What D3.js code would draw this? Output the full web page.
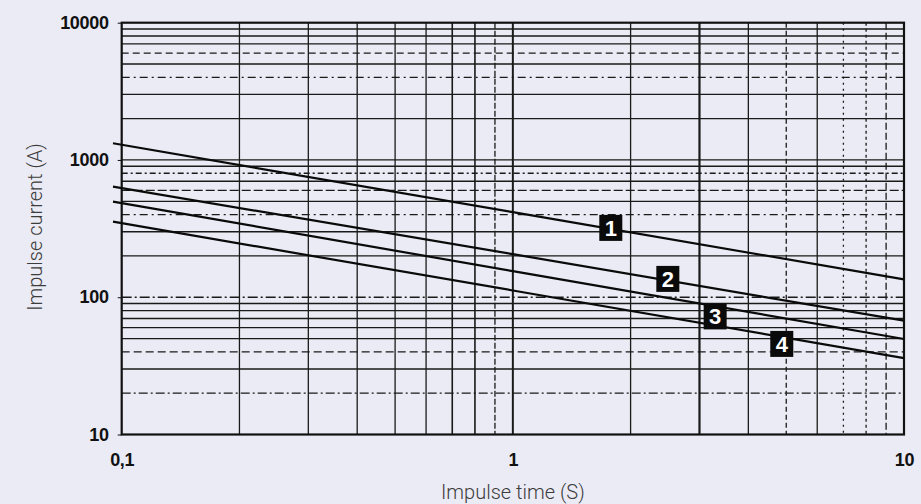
<!DOCTYPE html>
<html>
<head>
<meta charset="utf-8">
<script src="https://cdn.jsdelivr.net/npm/d3@7"></script>
<style>
  html, body { margin: 0; padding: 0; background: #ebebf5; }
  svg { display: block; }
  .tick-label { font-family: "Liberation Sans", Arial, sans-serif; font-weight: bold; font-size: 18px; letter-spacing: -0.3px; fill: #111; }
  .axis-title { font-family: Roboto, "Open Sans", sans-serif; font-size: 20px; font-weight: 300; fill: #3c3c3c; }
  .box-label { font-family: "Liberation Sans", Arial, sans-serif; font-weight: bold; font-size: 22px; fill: #fff; }
</style>
</head>
<body>
<div id="chart"></div>
<script>
// Impulse current vs impulse time, log-log chart with 4 curves

// axis ticks
var timeTicks = [0.1, 1, 10];
var timeTickLabels = ["0,1", "1", "10"];
var currentTicks = [10, 100, 1000, 10000];
var currentTickLabels = ["10", "100", "1000", "10000"];

// curves, time in s, current in A
var curveNames = ["1", "2", "3", "4"];
var curveTimes = [0.095, 1, 10];
var curve1 = [1324, 417, 135];
var curve2 = [639, 206, 67.5];
var curve3 = [497, 155, 49.6];
var curve4 = [355, 112, 36];

// where the numbered boxes sit
var labelTimes = [1.78, 2.49, 3.29, 4.87];
var labelCurrents = [320, 136, 72.5, 45.7];

var width = 921;
var height = 504;

var svg = d3.select('#chart')
  .append('svg')
  .attr('width', width)
  .attr('height', height);

var x = d3.scaleLog().domain([0.1, 10]).range([121.7, 904]);
var y = d3.scaleLog().domain([10, 10000]).range([434.5, 22.7]);

// grid lines of the log paper, dashes copy the scanned look
var vDash = { 0.9: "6,2", 5: "5,3", 7: "2,4", 8: "3,3", 9: "7,3" };
var vWide = { 1: 2, 3: 2.2, 0.7: 1.6, 0.8: 1.6 };
var hDash = { 20: "9,3,2,3", 40: "8,4", 100: "10,3,2,3", 400: "8,4,2,4",
              600: "9,3", 800: "6,3,2,3", 4000: "8,4,2,4", 6000: "7,4" };

var gridX = [];
var gridY = [];
[0.1, 1].forEach(function (d) {
  for (var k = 2; k <= 9; k++) gridX.push(+(d * k).toFixed(2));
});
gridX.push(1);
[10, 100, 1000].forEach(function (d) {
  for (var k = 2; k <= 9; k++) gridY.push(d * k);
});
gridY.push(100, 1000);

var grid = svg.append('g');

grid.selectAll('.vgrid')
  .data(gridX)
  .enter()
  .append('line')
  .attr('x1', function (d) { return x(d); })
  .attr('x2', function (d) { return x(d); })
  .attr('y1', y(10000))
  .attr('y2', y(10))
  .attr('stroke', '#1a1a1a')
  .attr('stroke-width', function (d) { return vWide[d] || 1.3; })
  .attr('stroke-dasharray', function (d) { return vDash[d] || null; });

grid.selectAll('.hgrid')
  .data(gridY)
  .enter()
  .append('line')
  .attr('x1', x(0.1))
  .attr('x2', x(10))
  .attr('y1', function (d) { return y(d); })
  .attr('y2', function (d) { return y(d); })
  .attr('stroke', '#1a1a1a')
  .attr('stroke-width', 1.3)
  .attr('stroke-dasharray', function (d) { return hDash[d] || null; });

// frame of the plot
grid.append('rect')
  .attr('x', x(0.1))
  .attr('y', y(10000))
  .attr('width', x(10) - x(0.1))
  .attr('height', y(10) - y(10000))
  .attr('fill', 'none')
  .attr('stroke', '#111')
  .attr('stroke-width', 2.2);

// axes: only ticks and labels, the frame is the axis line
var xAxis = d3.axisBottom(x)
  .tickValues(timeTicks)
  .tickSize(0)
  .tickPadding(19)
  .tickFormat(function (d, i) { return timeTickLabels[i]; });

var yAxis = d3.axisLeft(y)
  .tickValues(currentTicks)
  .tickSize(4)
  .tickPadding(9)
  .tickFormat(function (d, i) { return currentTickLabels[i]; });

var gx = svg.append('g')
  .attr('transform', 'translate(0,' + y(10) + ')')
  .call(xAxis);
gx.select('.domain').remove();
gx.selectAll('text').attr('class', 'tick-label').attr('fill', null);

var gy = svg.append('g')
  .attr('transform', 'translate(' + x(0.1) + ',0)')
  .call(yAxis);
gy.select('.domain').remove();
gy.selectAll('line').attr('stroke', '#111');
gy.selectAll('text').attr('class', 'tick-label').attr('fill', null);

// curves
var curves = [curve1, curve2, curve3, curve4];
var line = d3.line()
  .x(function (d, i) { return x(curveTimes[i]); })
  .y(function (d) { return y(d); });

svg.selectAll('.curve')
  .data(curves)
  .enter()
  .append('path')
  .attr('d', line)
  .attr('fill', 'none')
  .attr('stroke', '#0a0a0a')
  .attr('stroke-width', 2.2);

// numbered black boxes
var boxW = 23;
var boxH = 26;
var boxes = svg.selectAll('.box')
  .data(curveNames)
  .enter()
  .append('g')
  .attr('transform', function (d, i) {
    return 'translate(' + x(labelTimes[i]) + ',' + y(labelCurrents[i]) + ')';
  });

boxes.append('rect')
  .attr('x', -boxW / 2)
  .attr('y', -boxH / 2)
  .attr('width', boxW)
  .attr('height', boxH)
  .attr('fill', '#0a0a0a');

boxes.append('text')
  .attr('class', 'box-label')
  .attr('text-anchor', 'middle')
  .attr('dy', '0.36em')
  .text(function (d) { return d; });

// axis titles
svg.append('text')
  .attr('class', 'axis-title')
  .attr('text-anchor', 'middle')
  .attr('x', (x(0.1) + x(10)) / 2)
  .attr('y', 499)
  .text('Impulse time (S)');

svg.append('text')
  .attr('class', 'axis-title')
  .attr('text-anchor', 'middle')
  .attr('transform', 'translate(42,227) rotate(-90)')
  .text('Impulse current (A)');
</script>
</body>
</html>
